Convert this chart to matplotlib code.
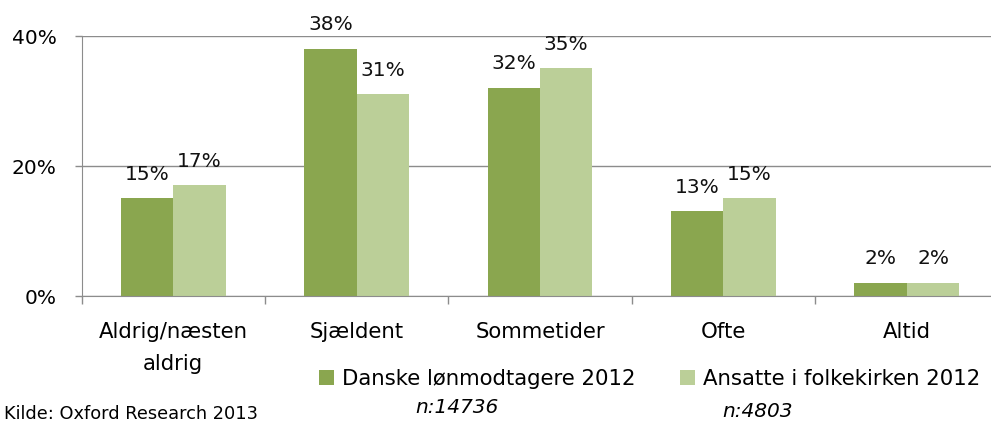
import matplotlib.pyplot as plt
import numpy as np

categories = ["Aldrig/næsten\naldrig", "Sjældent", "Sommetider", "Ofte", "Altid"]
danske = [15, 38, 32, 13, 2]
ansatte = [17, 31, 35, 15, 2]
series_names = ["Danske lønmodtagere 2012", "Ansatte i folkekirken 2012"]
n_labels = ["n:14736", "n:4803"]
yticks = [0, 20, 40]

dark = "#8AA64F"
light = "#BBCF98"
grid_c = "#8C8C8C"

plt.rcParams['font.family'] = ['DejaVu Sans']

W, H = 991, 423
fig = plt.figure(figsize=(W / 100, H / 100), dpi=100)
# plot area runs a little past the right edge of the picture, as in the original
ax = fig.add_axes([81.5 / W, 1 - 296 / H, (998.5 - 81.5) / W, (296 - 36) / H])

x = np.arange(len(categories))
w = 0.286
b1 = ax.bar(x - w / 2, danske, w, color=dark, label=series_names[0])
b2 = ax.bar(x + w / 2, ansatte, w, color=light, label=series_names[1])

for bars, vals in ((b1, danske), (b2, ansatte)):
    for r, v in zip(bars, vals):
        ax.annotate(f"{v}%", (r.get_x() + r.get_width() / 2, v),
                    xytext=(0, 13.5), textcoords="offset points",
                    ha="center", va="baseline", fontsize=14.5, color="#111111")

ax.set_xlim(-0.5, len(categories) - 0.5)
ax.set_ylim(0, 40)
ax.set_yticks(yticks)
ax.set_yticklabels([f"{t}%" for t in yticks], fontsize=14.5)
ax.yaxis.grid(True, color=grid_c, linewidth=1)
ax.set_axisbelow(True)

ax.set_xticks(x)
ax.set_xticklabels(categories, fontsize=15.3, linespacing=1.75)
ax.tick_params(axis="x", length=0, pad=19)
ax.set_xticks(np.arange(len(categories) + 1) - 0.5, minor=True)
ax.tick_params(axis="x", which="minor", length=6, color=grid_c, width=1)
ax.tick_params(axis="y", length=5, color=grid_c, width=1, pad=13)

for s in ["top", "right"]:
    ax.spines[s].set_visible(False)
ax.spines["left"].set_color(grid_c)
ax.spines["bottom"].set_color(grid_c)

fig.legend(handles=[b1, b2], loc="center left", bbox_to_anchor=(319 / W, 1 - 379 / H),
           ncol=2, frameon=False, fontsize=15.3, handlelength=0.7, handleheight=0.7,
           handletextpad=0.38, columnspacing=2.1, borderaxespad=0, borderpad=0)

fig.text(457 / W, 1 - 413 / H, n_labels[0], ha="center", va="baseline",
         fontsize=14.5, style="italic")
fig.text(758 / W, 1 - 417 / H, n_labels[1], ha="center", va="baseline",
         fontsize=14.5, style="italic")
fig.text(4 / W, 1 - 419 / H, "Kilde: Oxford Research 2013", ha="left", va="baseline",
         fontsize=12.8)

fig.savefig("out.png", dpi=100)
